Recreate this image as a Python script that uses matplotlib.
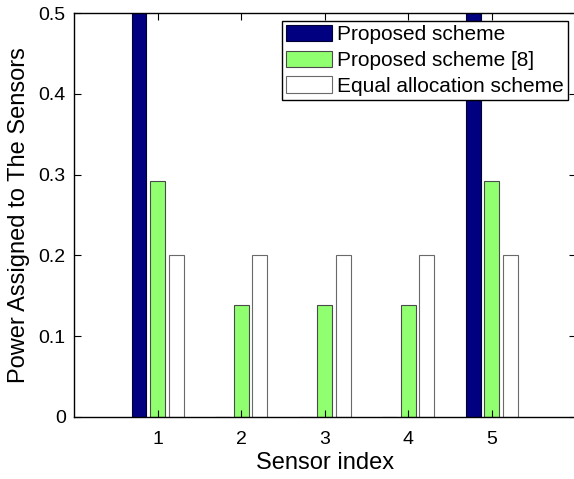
import numpy as np
import matplotlib
matplotlib.use('Agg')
import matplotlib.pyplot as plt

plt.rcParams['font.family'] = ['Liberation Sans', 'DejaVu Sans']

sensors = [1, 2, 3, 4, 5]
proposed = [0.5, 0.0, 0.0, 0.0, 0.5]
proposed_ref8 = [0.292, 0.139, 0.139, 0.139, 0.292]
equal_alloc = [0.2, 0.2, 0.2, 0.2, 0.2]
series_names = ['Proposed scheme', 'Proposed scheme [8]', 'Equal allocation scheme']
yticks = [0, 0.1, 0.2, 0.3, 0.4, 0.5]

fig = plt.figure(figsize=(5.74, 4.79), dpi=100)
W, H = 574.0, 479.0
# axes box in pixel coords (right edge falls just outside the picture)
ax = fig.add_axes([74 / W, 1 - 416.7 / H, (575.5 - 74) / W, (416.7 - 13.3) / H])

x = np.array(sensors, dtype=float)
width = 0.178
offset = 0.222
ax.bar(x - offset, proposed, width, color='#000080', edgecolor='#000033',
       linewidth=0.8, label=series_names[0])
ax.bar(x, proposed_ref8, width, color='#90FF70', edgecolor='#4a4a4a',
       linewidth=0.8, label=series_names[1])
ax.bar(x + offset, equal_alloc, width, color='white', edgecolor='#6a6a6a',
       linewidth=0.8, label=series_names[2])

ax.set_xlim(0, 6)
ax.set_ylim(0, 0.5)
ax.set_xticks(sensors)
ax.set_yticks(yticks)
ax.set_yticklabels(['0', '0.1', '0.2', '0.3', '0.4', '0.5'])
ax.tick_params(direction='in', length=5, width=0.8, labelsize=14,
               top=True, right=True)
ax.tick_params(axis='x', pad=10)
ax.tick_params(axis='y', pad=6)
for s in ax.spines.values():
    s.set_linewidth(1.0)

ax.set_xlabel('Sensor index', fontsize=17, labelpad=3)
ax.set_ylabel('Power Assigned to The Sensors', fontsize=17, labelpad=6)

leg = ax.legend(loc='upper right', bbox_to_anchor=(568 / W, 1 - 20.7 / H),
                bbox_transform=fig.transFigure, fontsize=15, frameon=True,
                fancybox=False, shadow=False, framealpha=1, edgecolor='black',
                borderaxespad=0, borderpad=0.2, labelspacing=0.3,
                handlelength=2.2, handleheight=0.85, handletextpad=0.25)
leg.get_frame().set_linewidth(1.0)

fig.savefig('out.png', dpi=100)
